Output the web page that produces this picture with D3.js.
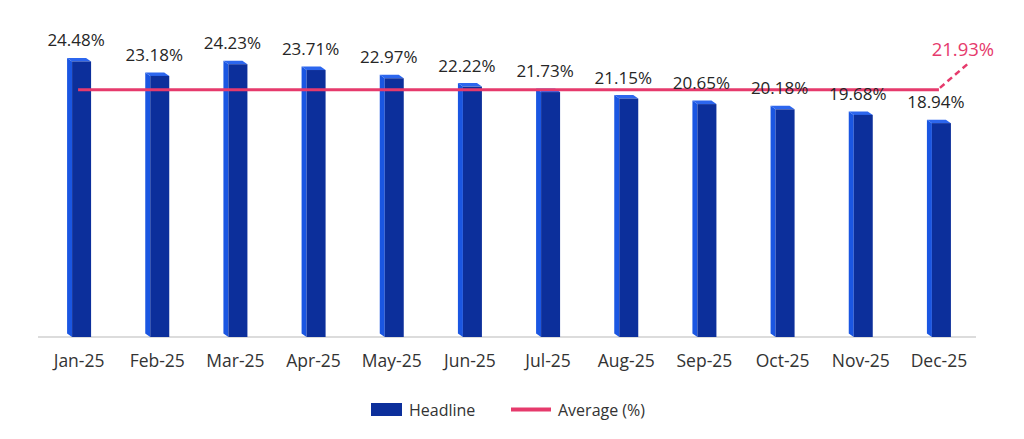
<!DOCTYPE html>
<html>
<head>
<meta charset="utf-8">
<script src="https://cdn.jsdelivr.net/npm/d3@7"></script>
<style>
  html, body { margin: 0; padding: 0; background: #fff; }
  svg { display: block; font-family: "Open Sans", "Noto Sans", sans-serif; }
</style>
</head>
<body>
<svg id="chart" width="1024" height="439"></svg>
<script>
const categories = ["Jan-25","Feb-25","Mar-25","Apr-25","May-25","Jun-25","Jul-25","Aug-25","Sep-25","Oct-25","Nov-25","Dec-25"];
const headline = [24.48, 23.18, 24.23, 23.71, 22.97, 22.22, 21.73, 21.15, 20.65, 20.18, 19.68, 18.94];
const average = 21.93;
const legendLabels = ["Headline", "Average (%)"];

const svg = d3.select("#chart");
const axisY = 337;

const x = d3.scaleBand().domain(categories).range([40, 978]);
const y = d3.scaleLinear().domain([0, 30]).range([334, 0]);

const cFront = "#0c2f9b", cSide = "#1a56e2", cTop = "#2c66ee";
const pink = "#e63a6c";
const fmt = v => v.toFixed(2) + "%";

// axis line
svg.append("line")
  .attr("x1", 38).attr("x2", 976)
  .attr("y1", axisY).attr("y2", axisY)
  .attr("stroke", "#d0d0d0").attr("stroke-width", 1.5);

// bars (pseudo-3D)
const g = svg.append("g");
const sideW = 5, depth = 3.5;
headline.forEach((v, i) => {
  const c = x(categories[i]) + x.bandwidth() / 2;
  const fx0 = c - 7, fx1 = c + 12;
  const top = y(v);
  g.append("path")
    .attr("d", `M${fx0},${top} L${fx0 - sideW},${top - depth} L${fx0 - sideW},${axisY - depth} L${fx0},${axisY} Z`)
    .attr("fill", cSide);
  g.append("path")
    .attr("d", `M${fx0},${top} L${fx0 - sideW},${top - depth} L${fx1 - sideW},${top - depth} L${fx1},${top} Z`)
    .attr("fill", cTop);
  g.append("rect")
    .attr("x", fx0).attr("y", top)
    .attr("width", fx1 - fx0).attr("height", axisY - top)
    .attr("fill", cFront);
});

// average line
const first = x(categories[0]) + x.bandwidth() / 2;
const last = x(categories[categories.length - 1]) + x.bandwidth() / 2;
svg.append("line")
  .attr("x1", first - 1).attr("x2", last)
  .attr("y1", y(average)).attr("y2", y(average))
  .attr("stroke", pink).attr("stroke-width", 3);

svg.append("line")
  .attr("x1", last + 1).attr("y1", y(average) - 2)
  .attr("x2", last + 30).attr("y2", y(average) - 27)
  .attr("stroke", pink).attr("stroke-width", 2.5)
  .attr("stroke-dasharray", "6,4");
svg.append("text")
  .attr("x", last + 24).attr("y", 56)
  .attr("text-anchor", "middle")
  .attr("font-size", 18.5).attr("fill", pink)
  .text(fmt(average));

// data labels
svg.append("g").selectAll("text")
  .data(headline)
  .join("text")
  .attr("x", (d, i) => x(categories[i]) + x.bandwidth() / 2 - 3)
  .attr("y", d => y(d) - 15)
  .attr("text-anchor", "middle")
  .attr("font-size", 17)
  .attr("fill", "#262626")
  .text(d => fmt(d));

// x axis labels
const xAxis = d3.axisBottom(x).tickSize(0).tickPadding(0);
const ax = svg.append("g").attr("transform", `translate(0,${axisY})`).call(xAxis);
ax.select(".domain").remove();
ax.selectAll("text")
  .attr("y", 30).attr("dy", null)
  .attr("font-family", "Open Sans, Noto Sans, sans-serif")
  .attr("font-size", 17.5)
  .attr("fill", "#333");

// legend
const lg = svg.append("g");
lg.append("rect").attr("x", 371).attr("y", 403).attr("width", 31).attr("height", 13).attr("fill", cFront);
lg.append("text").attr("x", 409).attr("y", 416).attr("font-size", 16).attr("fill", "#333").text(legendLabels[0]);
lg.append("line").attr("x1", 511).attr("x2", 551).attr("y1", 409.5).attr("y2", 409.5).attr("stroke", pink).attr("stroke-width", 4);
lg.append("text").attr("x", 558).attr("y", 416).attr("font-size", 16).attr("fill", "#333").text(legendLabels[1]);
</script>
</body>
</html>
